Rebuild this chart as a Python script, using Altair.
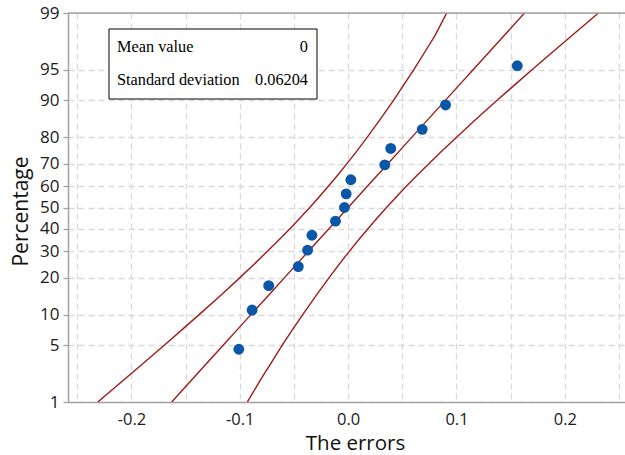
import altair as alt
import pandas as pd
from statistics import NormalDist

# ---- data ----
error_vals = [-0.1009, -0.0886, -0.0733, -0.0460, -0.0374, -0.0334, -0.0117,
              -0.0034, -0.0018, 0.0025, 0.0338, 0.0393, 0.0684, 0.0899, 0.1561]
point_pct = [4.5, 11.0, 17.5, 24.0, 30.5, 37.0, 43.5, 50.0, 56.5, 63.0,
             69.5, 76.0, 82.5, 89.0, 95.5]

line_pct = [1, 2, 3, 5, 7, 10, 15, 20, 25, 30, 35, 40, 45, 50,
            55, 60, 65, 70, 75, 80, 85, 90, 93, 95, 97, 98, 99]
fit_line = [-0.1628, -0.1438, -0.1317, -0.1151, -0.1033, -0.0897, -0.0725, -0.0589,
            -0.0472, -0.0367, -0.0270, -0.0177, -0.0088, 0.0,
            0.0088, 0.0177, 0.0270, 0.0367, 0.0472, 0.0589, 0.0725, 0.0897,
            0.1033, 0.1151, 0.1317, 0.1438, 0.1628]
lower_band = [-0.2310, -0.2063, -0.1906, -0.1694, -0.1545, -0.1375, -0.1164, -0.1001,
              -0.0865, -0.0745, -0.0637, -0.0537, -0.0444, -0.0354,
              -0.0268, -0.0183, -0.0097, -0.0011, 0.0080, 0.0177, 0.0286, 0.0419,
              0.0518, 0.0605, 0.0718, 0.0800, 0.0910]
upper_band = [-0.0930, -0.0805, -0.0720, -0.0608, -0.0521, -0.0419, -0.0286, -0.0177,
              -0.0080, 0.0011, 0.0097, 0.0183, 0.0268, 0.0354,
              0.0444, 0.0537, 0.0637, 0.0745, 0.0865, 0.1001, 0.1164, 0.1375,
              0.1545, 0.1694, 0.1906, 0.2063, 0.2310]

y_tick_pct = [1, 5, 10, 20, 30, 40, 50, 60, 70, 80, 90, 95, 99]
x_ticks = [-0.25, -0.2, -0.15, -0.1, -0.05, 0.0, 0.05, 0.1, 0.15, 0.2, 0.25]
x_tick_labels = ["", "-0.2", "", "-0.1", "", "0.0", "", "0.1", "", "0.2", ""]

stat_names = ["Mean value", "Standard deviation"]
stat_values = ["0", "0.06204"]

nd = NormalDist()
z = lambda p: nd.inv_cdf(p / 100.0)

pts = pd.DataFrame({"err": error_vals, "z": [z(p) for p in point_pct]})
rows = []
for name, vals in [("lower", lower_band), ("fit", fit_line), ("upper", upper_band)]:
    for p, v in zip(line_pct, vals):
        rows.append({"series": name, "err": v, "z": z(p)})
lines = pd.DataFrame(rows)

y_tick_z = [z(p) for p in y_tick_pct]
y_label_expr = "".join(
    f"abs(datum.value - ({zz:.6f})) < 0.001 ? '{p}' : " for zz, p in zip(y_tick_z, y_tick_pct)
) + "''"
x_label_expr = "".join(
    f"abs(datum.value - ({v})) < 0.001 ? '{lab}' : " for v, lab in zip(x_ticks, x_tick_labels)
) + "''"

W, H = 557, 389
AX = "#a3a3a3"
GRID = "#d9d9d9"
FONT = "Open Sans"

xscale = alt.Scale(domain=[-0.2585, 0.2555], nice=False, zero=False)
yscale = alt.Scale(domain=[z(1), z(99)], nice=False, zero=False)

xaxis = alt.Axis(values=x_ticks, tickCount=40, labelExpr=x_label_expr, title="The errors",
                 ticks=False, labelPadding=22, labelBaseline="alphabetic",
                 labelOverlap=False,
                 labelFont=FONT, labelFontSize=16.5, labelColor="#1a1a1a",
                 titleFont=FONT, titleFontSize=20.5, titleFontWeight="normal",
                 titleColor="#111111", titleX=287, titleY=47,
                 titleBaseline="alphabetic", titleAlign="center",
                 domainColor=AX, domainWidth=1.5,
                 grid=True, gridColor=GRID, gridDash=[6, 4], gridWidth=1.3)
yaxis = alt.Axis(values=y_tick_z, tickCount=40, labelExpr=y_label_expr, title="Percentage",
                 ticks=True, tickSize=5, tickColor=AX, tickWidth=1.3, labelPadding=4,
                 labelOverlap=False,
                 labelFont=FONT, labelFontSize=17, labelColor="#1a1a1a",
                 titleFont=FONT, titleFontSize=21, titleFontWeight="normal",
                 titleColor="#111111", titleX=-41, titleY=198, titleAngle=-90,
                 titleBaseline="alphabetic", titleAlign="center",
                 domainColor=AX, domainWidth=1.5,
                 grid=True, gridColor=GRID, gridDash=[6, 4], gridWidth=1.3)

line_layer = alt.Chart(lines).mark_line(color="#9e1b1b", strokeWidth=1.4, clip=True).encode(
    x=alt.X("err:Q", scale=xscale, axis=xaxis),
    y=alt.Y("z:Q", scale=yscale, axis=yaxis),
    detail="series:N",
    order="z:Q",
)
point_layer = alt.Chart(pts).mark_circle(color="#0a56a8", opacity=1, size=118).encode(
    x=alt.X("err:Q", scale=xscale),
    y=alt.Y("z:Q", scale=yscale),
)

one = pd.DataFrame({"a": [0]})
top_border = alt.Chart(one).mark_rule(color=AX, strokeWidth=1.5).encode(
    x=alt.value(0), x2=alt.value(W), y=alt.value(0)
)
box = alt.Chart(one).mark_rect(fill="white", stroke="black", strokeWidth=1).encode(
    x=alt.value(41), x2=alt.value(249), y=alt.value(16), y2=alt.value(86)
)
texts = []
for i, (nm, vl) in enumerate(zip(stat_names, stat_values)):
    yb = 39 + i * 33
    texts.append(alt.Chart(one).mark_text(font="Liberation Serif", fontSize=16.3, color="black",
                                          align="left", baseline="alphabetic").encode(
        x=alt.value(49), y=alt.value(yb), text=alt.value(nm)))
    texts.append(alt.Chart(one).mark_text(font="Liberation Serif", fontSize=16.3, color="black",
                                          align="right", baseline="alphabetic").encode(
        x=alt.value(240), y=alt.value(yb), text=alt.value(vl)))

chart = alt.layer(line_layer, point_layer, top_border, box, *texts).properties(
    width=W, height=H,
    padding={"left": 68, "top": 13, "right": 0, "bottom": 53},
    autosize=alt.AutoSizeParams(type="none"),
).configure_view(stroke=None).configure(background="white")

chart.save("out.html", embed_options={"renderer": "svg", "actions": False})
